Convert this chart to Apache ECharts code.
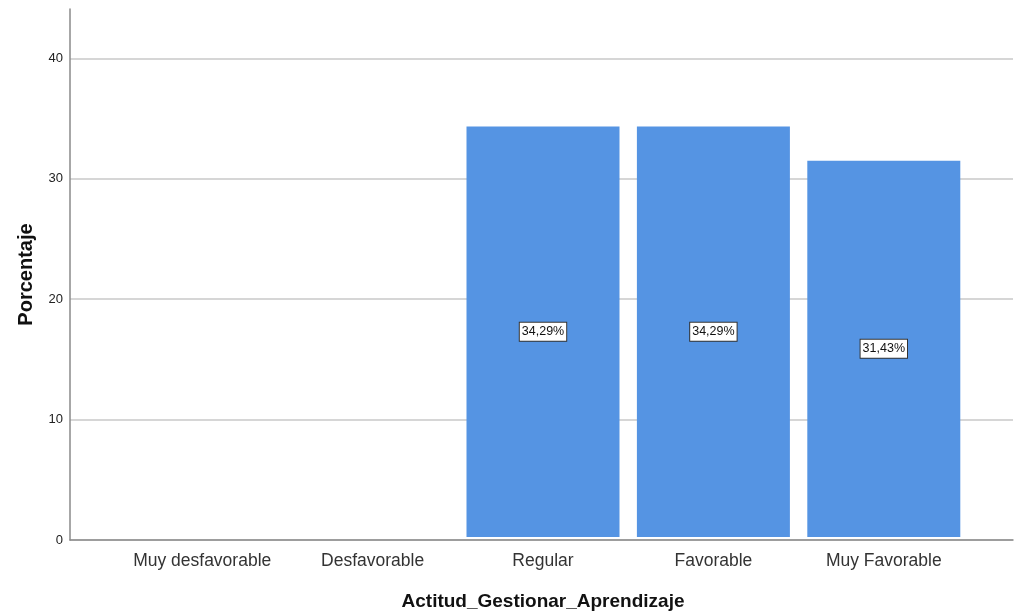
<!DOCTYPE html>
<html>
<head>
<meta charset="utf-8">
<script src="https://cdn.jsdelivr.net/npm/echarts@6/dist/echarts.min.js"></script>
<style>html,body{margin:0;padding:0;background:#fff}#c{width:1014px;height:616px}</style>
</head>
<body>
<div id="c"></div>
<script>
const categories = ['Muy desfavorable', 'Desfavorable', 'Regular', 'Favorable', 'Muy Favorable'];
const percentages = [null, null, 34.29, 34.29, 31.43];
const yTicks = [0, 10, 20, 30, 40];

const chart = echarts.init(document.getElementById('c'), null, {renderer: 'canvas'});
const font = 'Liberation Sans, Arial, sans-serif';
chart.setOption({
  animation: false,
  backgroundColor: '#fff',
  grid: [
    {left: 70, right: 1, top: 9, bottom: 76},
    {left: 117, right: 45, top: 9, bottom: 76}
  ],
  xAxis: [
    {gridIndex: 0, type: 'value', min: 0, max: 1, show: true,
     axisLine: {show: true, lineStyle: {color: '#8a8a8a', width: 1.5}},
     axisTick: {show: false}, axisLabel: {show: false}, splitLine: {show: false}},
    {gridIndex: 1, type: 'category', data: categories,
     axisLine: {show: false}, axisTick: {show: false},
     axisLabel: {color: '#333', fontSize: 17.5, fontFamily: font, margin: 15, interval: 0, hideOverlap: false},
     name: 'Actitud_Gestionar_Aprendizaje', nameLocation: 'middle', nameGap: 55,
     nameTextStyle: {color: '#111', fontSize: 19, fontWeight: 'bold', fontFamily: font}}
  ],
  yAxis: [
    {gridIndex: 0, type: 'value', min: 0, max: 44.1, interval: 10,
     axisLine: {show: true, lineStyle: {color: '#8a8a8a', width: 1.5}},
     axisTick: {show: false},
     axisLabel: {color: '#222', fontSize: 13, fontFamily: font, margin: 7, showMaxLabel: false,
       formatter: v => yTicks.includes(v) ? String(v) : ''},
     splitLine: {show: true, showMaxLine: false, lineStyle: {color: '#c8c8c8', width: 1.5}},
     name: 'Porcentaje', nameLocation: 'middle', nameGap: 34, nameRotate: 90,
     nameTextStyle: {color: '#111', fontSize: 20, fontWeight: 'bold', fontFamily: font}},
    {gridIndex: 1, type: 'value', min: 0, max: 44.1, show: false, splitLine: {show: false}}
  ],
  series: [{
    type: 'bar', xAxisIndex: 1, yAxisIndex: 1,
    data: percentages, barWidth: 153,
    itemStyle: {color: '#5594e3'},
    label: {show: true, position: 'inside',
      formatter: p => p.value == null ? '' : p.value.toFixed(2).replace('.', ',') + '%',
      color: '#111', fontSize: 12.5, fontFamily: font,
      backgroundColor: '#fff', borderColor: '#333', borderWidth: 1, padding: [3, 2, 2, 2]}
  }]
});
</script>
</body>
</html>
